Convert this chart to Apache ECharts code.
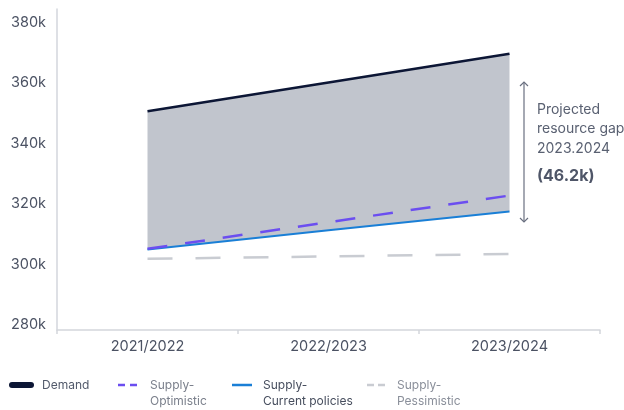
<!DOCTYPE html>
<html>
<head>
<meta charset="utf-8">
<script src="https://cdn.jsdelivr.net/npm/echarts@6/dist/echarts.min.js"></script>
<style>html,body{margin:0;padding:0;background:#fff}#c{width:624px;height:410px}</style>
</head>
<body>
<div id="c"></div>
<script>
const categories = ['2021/2022', '2022/2023', '2023/2024'];
const demand = [352200, 361700, 371200];
const supplyOptimistic = [306800, 315600, 324400];
const supplyCurrent = [306600, 312900, 319100];
const supplyPessimistic = [303500, 304300, 305100];
const yTicks = [280000, 300000, 320000, 340000, 360000, 380000];
const legendNames = ['Demand', 'Supply-\nOptimistic', 'Supply-\nCurrent policies', 'Supply-\nPessimistic'];

const gap = demand.map((d, i) => d - supplyCurrent[i]);
const font = 'Inter, "Noto Sans", sans-serif';
const txt = '#4b5263';

const C = { demand: '#0c1635', opt: '#6b4ef0', cur: '#1a7fd6', pes: '#c9ccd2' };

const chart = echarts.init(document.getElementById('c'));
chart.setOption({
  animation: false,
  textStyle: { fontFamily: font },
  grid: { left: 57, right: 24, top: 9, bottom: 80 },
  xAxis: {
    type: 'category', data: categories, boundaryGap: true,
    axisLine: { lineStyle: { color: '#d3d6dc', width: 1.5 } },
    axisTick: { show: true, length: 4, lineStyle: { color: '#d3d6dc', width: 1.5 } },
    axisLabel: { color: txt, fontSize: 14.5, margin: 9, fontFamily: font }
  },
  yAxis: {
    type: 'value', min: 280000, max: 386000, interval: 20000,
    splitLine: { show: false },
    axisLine: { show: true, lineStyle: { color: '#d3d6dc', width: 1.5 } },
    axisTick: { show: false },
    axisLabel: {
      color: txt, fontSize: 14.5, margin: 11, fontFamily: font,
      verticalAlign: 'bottom', lineHeight: 10,
      formatter: v => yTicks.includes(v) ? (v / 1000) + 'k' : ''
    }
  },
  series: [
    { name: legendNames[2], type: 'line', stack: 'g', data: supplyCurrent,
      symbol: 'none', z: 4, lineStyle: { color: C.cur, width: 2 } },
    { name: 'gap', type: 'line', stack: 'g', data: gap, symbol: 'none', z: 1,
      lineStyle: { width: 0 }, areaStyle: { color: '#c1c5cd', opacity: 1 }, silent: true },
    { name: legendNames[0], type: 'line', data: demand, symbol: 'none', z: 5,
      lineStyle: { color: C.demand, width: 2.5 } },
    { name: legendNames[1], type: 'line', data: supplyOptimistic, symbol: 'none', z: 5,
      lineStyle: { color: C.opt, width: 2.5, type: [20, 18] } },
    { name: legendNames[3], type: 'line', data: supplyPessimistic, symbol: 'none', z: 3,
      lineStyle: { color: C.pes, width: 2.5, type: [25, 23] } }
  ],
  graphic: [
    { type: 'text', left: 275, top: 150,
      style: { text: 'Resource gap', fill: '#525a6b', font: 'bold 11.5px ' + font } },
    { type: 'polyline', shape: { points: [[524, 82], [524, 222]] }, style: { stroke: '#6a7080', lineWidth: 1.2 } },
    { type: 'polyline', shape: { points: [[520, 86], [524, 82], [528, 86]] }, style: { stroke: '#6a7080', lineWidth: 1.2, fill: null } },
    { type: 'polyline', shape: { points: [[520, 218], [524, 222], [528, 218]] }, style: { stroke: '#6a7080', lineWidth: 1.2, fill: null } },
    { type: 'text', left: 537, top: 100,
      style: { text: 'Projected\nresource gap\n2023.2024', fill: '#5a6172', font: '14px ' + font, lineHeight: 19.5 } },
    { type: 'text', left: 537, top: 168,
      style: { text: '(46.2k)', fill: '#4f5668', font: 'bold 16px ' + font } },
    // legend
    { type: 'line', shape: { x1: 12, y1: 385, x2: 31, y2: 385 },
      style: { stroke: C.demand, lineWidth: 6, lineCap: 'round' } },
    { type: 'text', left: 42, top: 377, style: { text: legendNames[0], fill: '#525a6b', font: '12px ' + font, lineHeight: 16 } },
    { type: 'line', shape: { x1: 118, y1: 385, x2: 137, y2: 385 },
      style: { stroke: C.opt, lineWidth: 2.5, lineDash: [7, 5] } },
    { type: 'text', left: 150, top: 377, style: { text: legendNames[1], fill: '#7b808c', font: '12px ' + font, lineHeight: 16 } },
    { type: 'line', shape: { x1: 232, y1: 385, x2: 252, y2: 385 },
      style: { stroke: C.cur, lineWidth: 2.5 } },
    { type: 'text', left: 263, top: 377, style: { text: legendNames[2], fill: '#474e5e', font: '12px ' + font, lineHeight: 16 } },
    { type: 'line', shape: { x1: 367, y1: 385, x2: 385, y2: 385 },
      style: { stroke: C.pes, lineWidth: 2.5, lineDash: [7, 4] } },
    { type: 'text', left: 397, top: 377, style: { text: legendNames[3], fill: '#8a8f9a', font: '12px ' + font, lineHeight: 16 } }
  ]
});
</script>
</body>
</html>
